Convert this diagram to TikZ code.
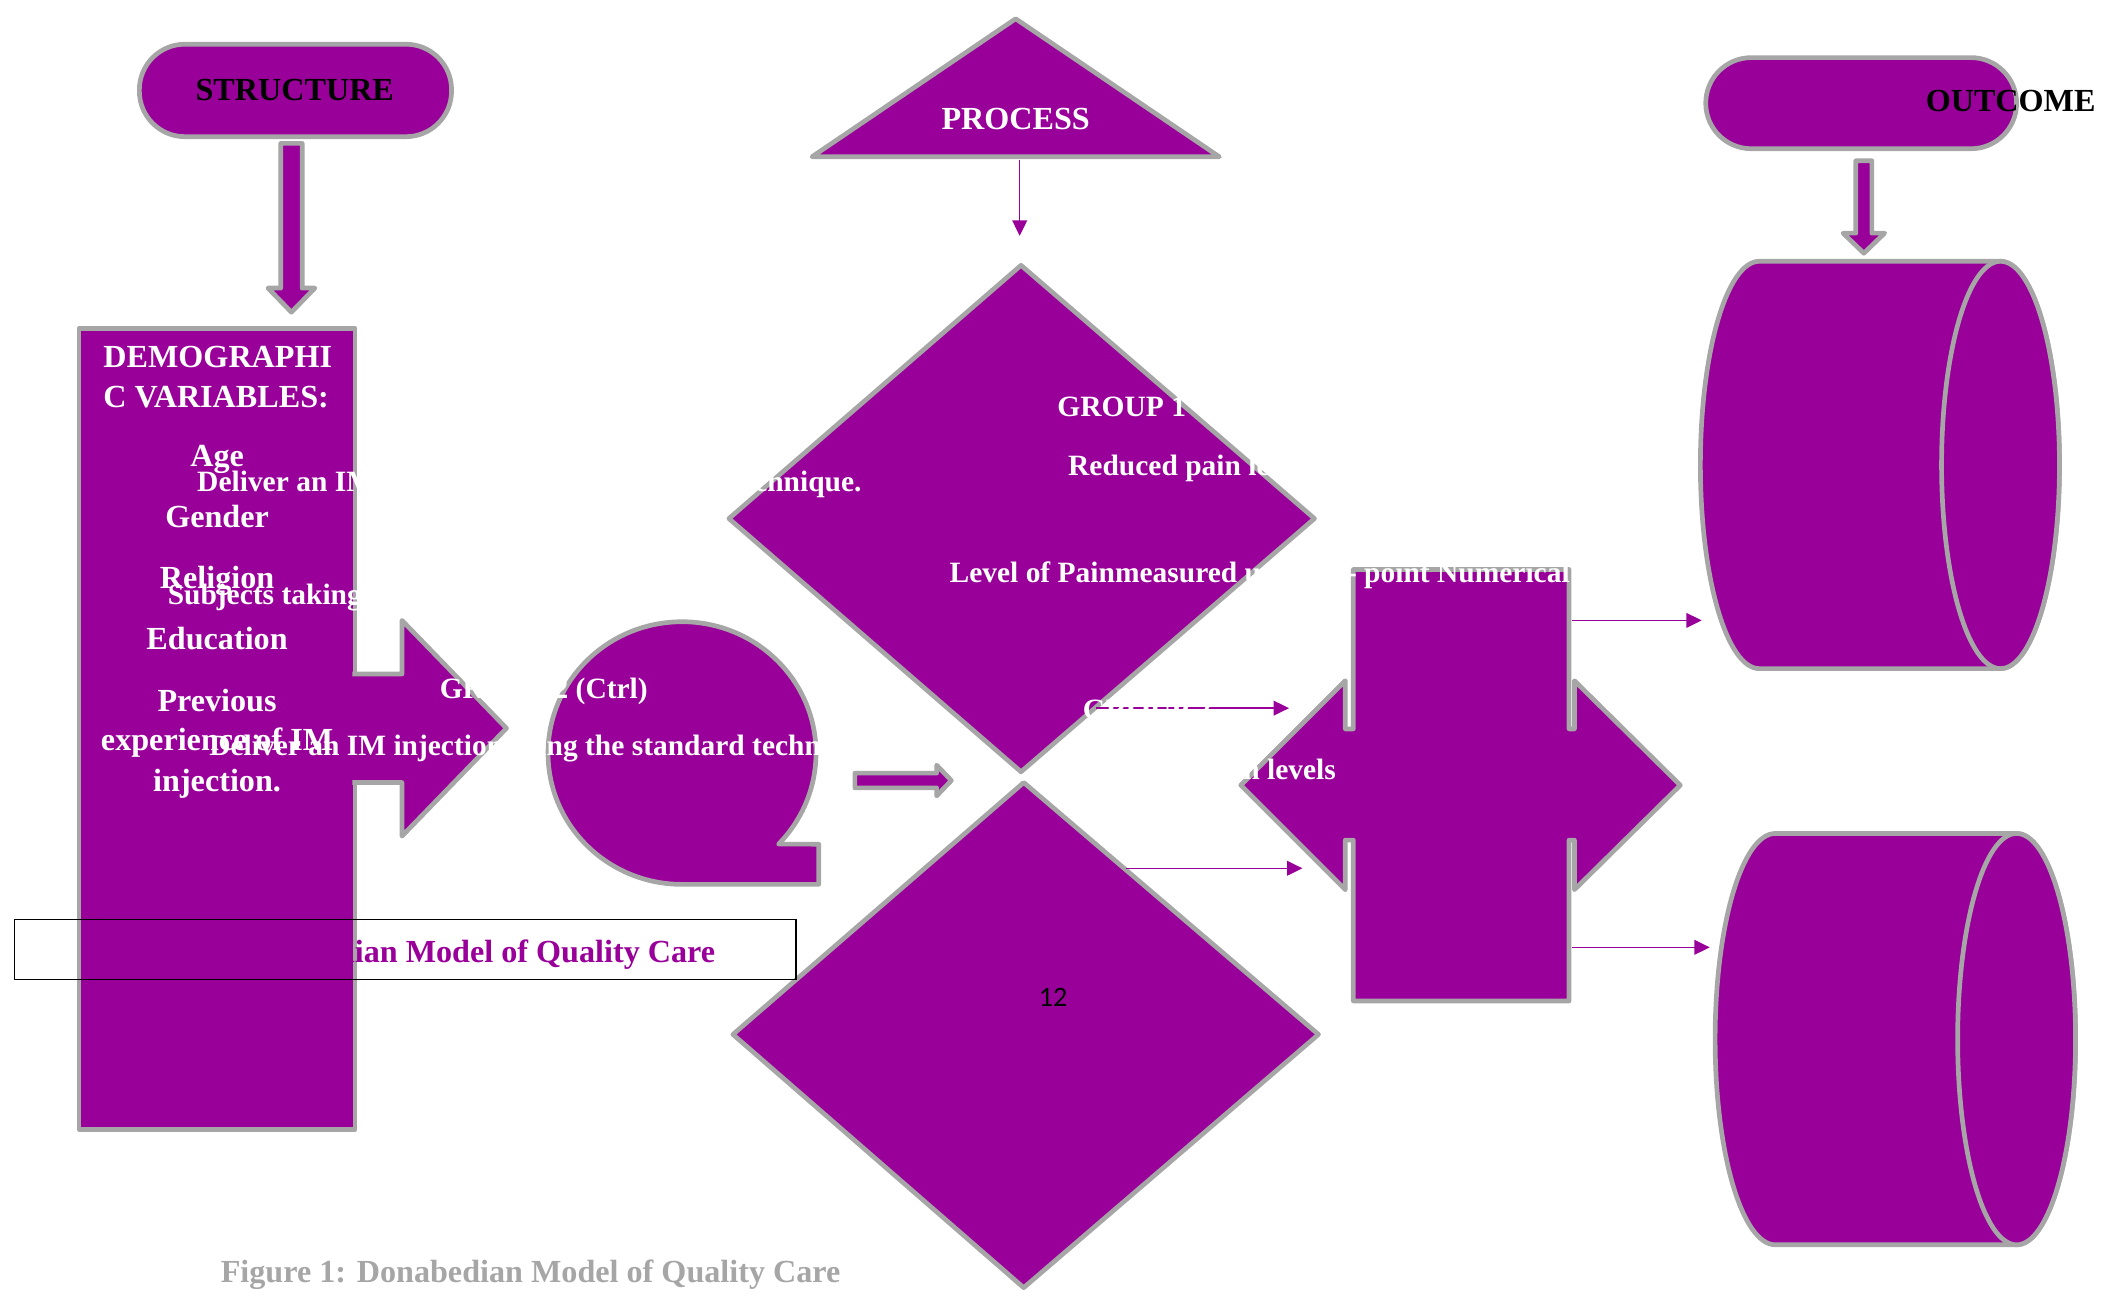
\documentclass[tikz,border=0pt]{standalone}
\usepackage{fontspec}
\setmainfont{Liberation Serif}
\newfontfamily\calib{Carlito}
\usetikzlibrary{arrows.meta}
\definecolor{pur}{HTML}{990099}
\definecolor{gry}{HTML}{A6A6A6}
\definecolor{capgry}{HTML}{A6A6A6}
\begin{document}
\begin{tikzpicture}[x=1pt,y=-1pt,
  shp/.style={fill=pur,draw=gry,line width=3.5pt,line join=round},
  big/.style={font=\fontsize{24}{28}\selectfont\bfseries},
  small/.style={font=\fontsize{22}{26}\selectfont\bfseries},
  wt/.style={big,text=white,inner sep=0pt,anchor=base west},
  wts/.style={small,text=white,inner sep=0pt,anchor=base west},
  wc/.style={big,text=white,inner sep=0pt,anchor=base},
  bk/.style={big,text=black,inner sep=0pt},
  conn/.style={draw=pur,line width=1.1pt,-{Triangle[length=11.5pt,width=11pt]}}]
\useasboundingbox (0,0) rectangle (1568,967.2);

% ---------- STRUCTURE column ----------
\node[shp,rounded corners=34pt,minimum width=233pt,minimum height=69pt,inner sep=0pt] (structure) at (220.5,67.5) {};
\draw[shp] (209.5,107) -- (225.5,107) -- (225.5,215) -- (235,215) -- (217.5,233) -- (200,215) -- (209.5,215) -- cycle;
\node[shp,minimum width=206pt,minimum height=598pt,inner sep=0pt] (demo) at (162,544) {};
\filldraw[shp] (263,503) -- (300,503) -- (300,463) -- (378,543.5) -- (300,624) -- (300,584) -- (263,584);

% ---------- PROCESS column ----------
\draw[shp] (758,14) -- (910,117) -- (606,117) -- cycle;
\draw[shp] (762,198) -- (981,387) -- (762,576) -- (544,387) -- cycle;
\draw[shp] (764,584) -- (984,772) -- (764,961) -- (547,772) -- cycle;
\draw[shp] (509,660) arc[start angle=-90,end angle=-403.9,x radius=100pt,y radius=98pt] -- (611,630) -- (611,660) -- cycle;
\draw[shp] (638,577) -- (699,577) -- (699,571) -- (710,582.5) -- (699,594) -- (699,588) -- (638,588) -- cycle;
\draw[shp] (1010,425) -- (1171,425) -- (1171,544) -- (1175,544) -- (1175,508) -- (1254,586) -- (1175,664) -- (1175,627) -- (1171,627) -- (1171,747) -- (1010,747) -- (1010,627) -- (1004,627) -- (1004,664) -- (926,586) -- (1004,508) -- (1004,544) -- (1010,544) -- cycle;

% ---------- OUTCOME column ----------
\node[shp,rounded corners=34pt,minimum width=232pt,minimum height=68pt,inner sep=0pt] (outcome) at (1389,77) {};
\draw[shp] (1385,120) -- (1397,120) -- (1397,174) -- (1406.5,174) -- (1391,189) -- (1375.5,174) -- (1385,174) -- cycle;
\draw[shp] (1493,195) -- (1313,195) arc[start angle=90,end angle=270,x radius=44pt,y radius=152pt] -- (1493,499) arc[start angle=-90,end angle=90,x radius=44pt,y radius=152pt] -- cycle;
\draw[shp] (1493,347) ellipse [x radius=44pt,y radius=152pt];
\draw[shp] (1505,622) -- (1325,622) arc[start angle=90,end angle=270,x radius=45pt,y radius=153.5pt] -- (1505,929) arc[start angle=-90,end angle=90,x radius=44pt,y radius=153.5pt] -- cycle;
\draw[shp] (1505,775.5) ellipse [x radius=44pt,y radius=153.5pt];

% ---------- connectors ----------
\coordinate (pa) at (761,119.5);
\coordinate (pb) at (761,176);
\coordinate (ga) at (818,528.5);
\coordinate (gb) at (962,528.5);
\coordinate (da) at (840,648);
\coordinate (db) at (972,648);
\coordinate (ca) at (1173,463);
\coordinate (cb) at (1270,463);
\coordinate (ea) at (1173,707);
\coordinate (eb) at (1276,707);
\draw[conn] (pa) -- (pb);
\draw[conn] (ga) -- (gb);
\draw[conn] (da) -- (db);
\draw[conn] (ca) -- (cb);
\draw[conn] (ea) -- (eb);

% ---------- caption box ----------
\node[draw=black,line width=1pt,minimum width=583pt,minimum height=45pt,inner sep=0pt] (capbox) at (302.5,708.5) {};
\node[big,text=pur,inner sep=0pt,anchor=base] (captxt) at (302.5,718) {Figure 1: Donabedian Model of Quality Care};

% ---------- texts ----------
\node[bk,anchor=base] (sttxt) at (220,75) {STRUCTURE};
\node[bk,anchor=base west] (outtxt) at (1437,83) {OUTCOME};
\node[wc] (proctxt) at (758,97) {PROCESS};

\node[wt] (dem1) at (77,274) {DEMOGRAPHI};
\node[wt] (dem2) at (77,304) {C VARIABLES:};
\node[wc] (age) at (162,348.5) {Age};
\node[wc] (gender) at (162,394) {Gender};
\node[wc] (religion) at (162,439) {Religion};
\node[wc] (educ) at (162,485) {Education};
\node[wc] (prev) at (162,531) {Previous};
\node[wc] (exper) at (162,560) {experience of IM};
\node[wc] (inj) at (162,591) {injection.};

\node[wts] (deliv1) at (147,367) {Deliver an IM injection using the Z-Track technique.};
\node[wts] (subj) at (125,451) {Subjects taking};
\node[wts] (grp2c) at (328,521) {GROUP 2 (Ctrl)};
\node[wts] (deliv2) at (156,564) {Deliver an IM injection using the standard technique.};

\node[wts] (grp1) at (789,311) {GROUP 1};
\node[wts] (red1) at (797,355) {Reduced pain levels};
\node[wts] (level) at (708.5,435) {Level of Painmeasured using 11- point Numerical Rating};
\node[wts] (grp2) at (808,537) {GROUP 2};
\node[wts] (red2) at (811,581.5) {Reduced pain levels};

\node[inner sep=0pt,anchor=base,text=black,font=\calib\fontsize{21}{25}\selectfont] (pg) at (786,751) {12};
\node[big,text=capgry,inner sep=0pt,anchor=base] (figcap) at (396,957.5) {Figure 1: Donabedian Model of Quality Care};
\end{tikzpicture}
\end{document}
